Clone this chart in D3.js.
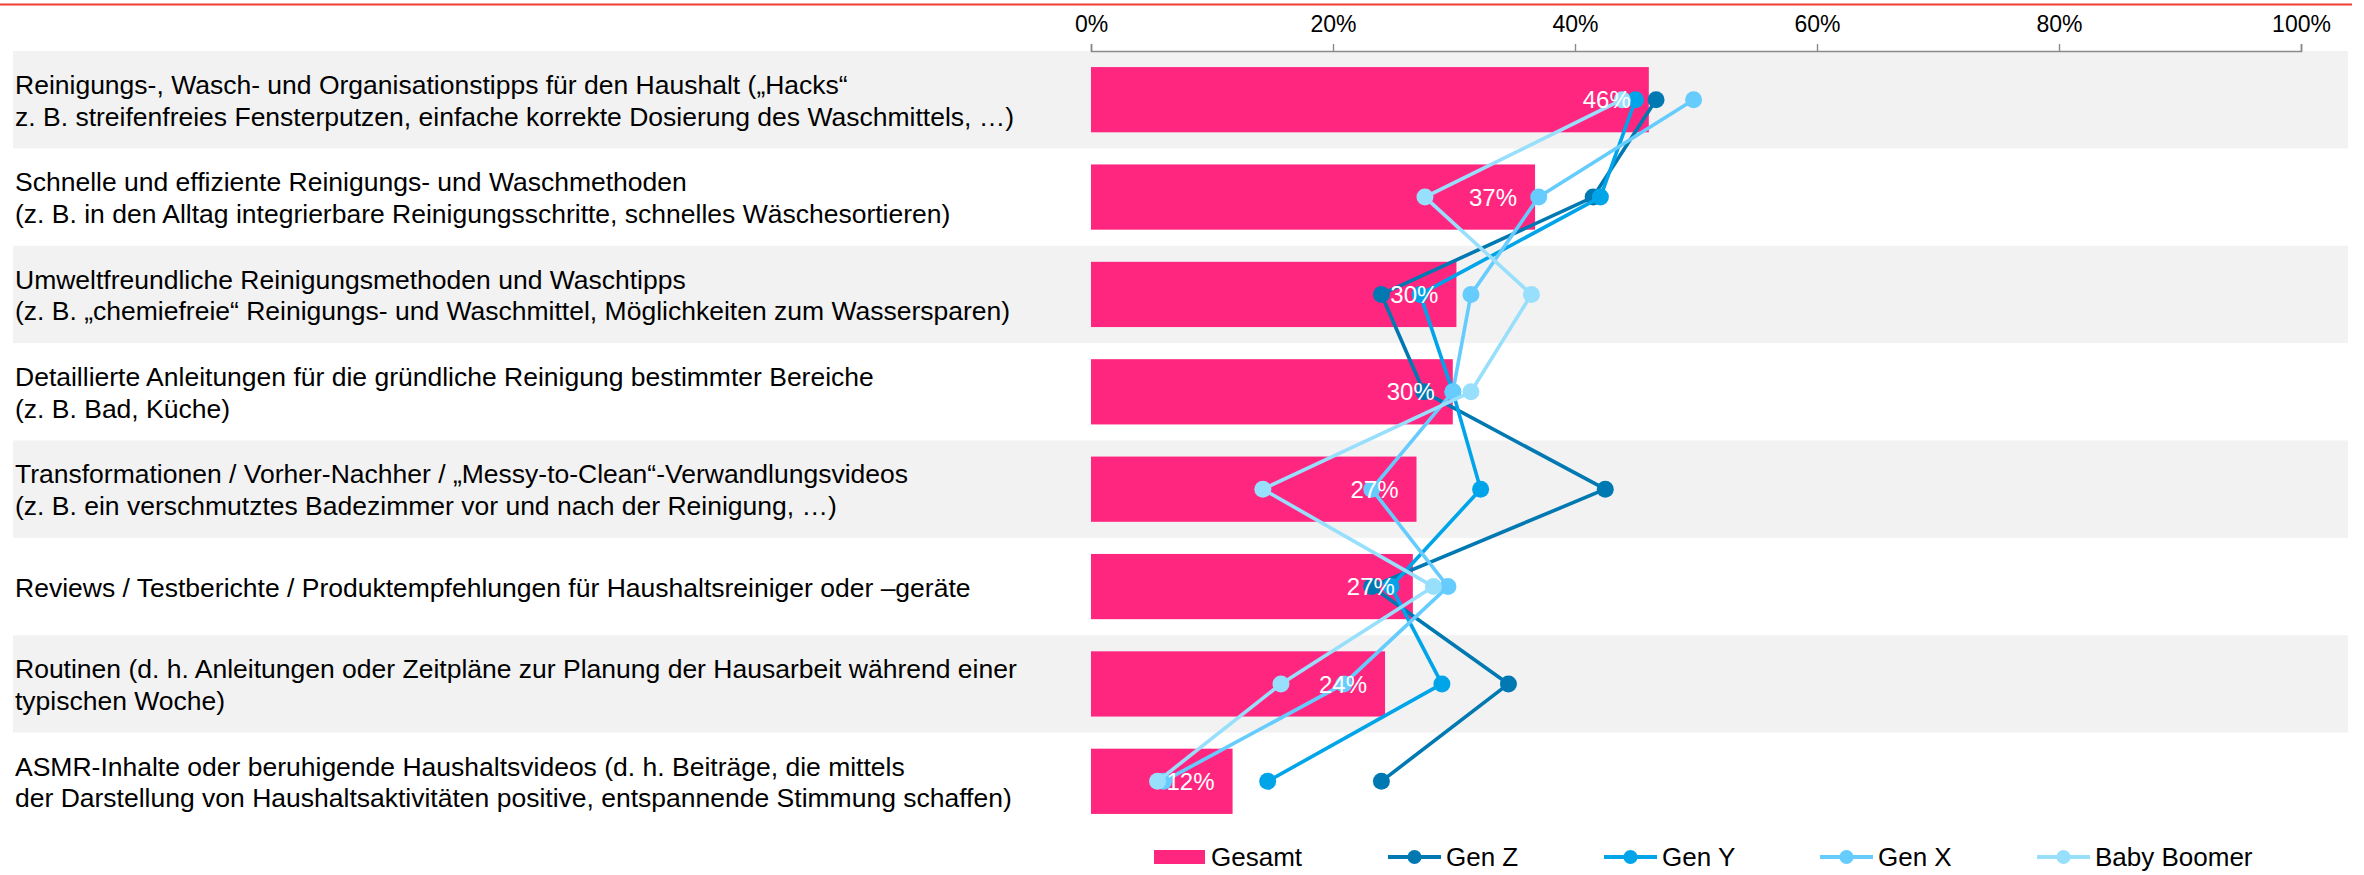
<!DOCTYPE html>
<html>
<head>
<meta charset="utf-8">
<script src="https://cdn.jsdelivr.net/npm/d3@7"></script>
<style>
html,body{margin:0;padding:0;background:#fff;}
svg{display:block;font-family:"Liberation Sans",Arial,sans-serif;}
</style>
</head>
<body>
<svg id="chart" width="2364" height="875"></svg>
<script>
const categories = [
  ["Reinigungs-, Wasch- und Organisationstipps für den Haushalt („Hacks“", "z. B. streifenfreies Fensterputzen, einfache korrekte Dosierung des Waschmittels, …)"],
  ["Schnelle und effiziente Reinigungs- und Waschmethoden", "(z. B. in den Alltag integrierbare Reinigungsschritte, schnelles Wäschesortieren)"],
  ["Umweltfreundliche Reinigungsmethoden und Waschtipps", "(z. B. „chemiefreie“ Reinigungs- und Waschmittel, Möglichkeiten zum Wassersparen)"],
  ["Detaillierte Anleitungen für die gründliche Reinigung bestimmter Bereiche", "(z. B. Bad, Küche)"],
  ["Transformationen / Vorher-Nachher / „Messy-to-Clean“-Verwandlungsvideos", "(z. B. ein verschmutztes Badezimmer vor und nach der Reinigung, …)"],
  ["Reviews / Testberichte / Produktempfehlungen für Haushaltsreiniger oder –geräte"],
  ["Routinen (d. h. Anleitungen oder Zeitpläne zur Planung der Hausarbeit während einer", "typischen Woche)"],
  ["ASMR-Inhalte oder beruhigende Haushaltsvideos (d. h. Beiträge, die mittels", "der Darstellung von Haushaltsaktivitäten positive, entspannende Stimmung schaffen)"]
];
const gesamt = [46.1, 36.7, 30.2, 29.9, 26.9, 26.6, 24.3, 11.7];
const genZ   = [46.7, 41.5, 24.0, 27.5, 42.5, 23.2, 34.5, 24.0];
const genY   = [45.0, 42.1, 27.2, 29.9, 32.2, 24.8, 29.0, 14.6];
const genX   = [49.8, 37.0, 31.4, 29.9, 23.2, 29.5, 20.9, 6.0];
const boomer = [43.9, 27.6, 36.4, 31.4, 14.2, 28.3, 15.7, 5.5];
const tickValues = [0, 20, 40, 60, 80, 100];
const seriesNames = ["Gesamt", "Gen Z", "Gen Y", "Gen X", "Baby Boomer"];

const colors = {"Gesamt":"#ff2680","Gen Z":"#0079b2","Gen Y":"#00a5e9","Gen X":"#66ccfd","Baby Boomer":"#98dffc"};
const lineSeries = [
  {name:"Gen Z", values: genZ},
  {name:"Gen Y", values: genY},
  {name:"Gen X", values: genX},
  {name:"Baby Boomer", values: boomer}
];

const svg = d3.select("#chart");
const x = d3.scaleLinear().domain([0, 100]).range([1091, 2301]);
const idx = d3.range(categories.length);
const y = d3.scaleBand().domain(idx).range([51, 830]).padding(0);
const yc = i => y(i) + y.bandwidth() / 2;
const barH = y.bandwidth() * 0.67;

// top red rule
svg.append("line").attr("x1", 0).attr("x2", 2352).attr("y1", 4.5).attr("y2", 4.5)
  .attr("stroke", "#ef3e36").attr("stroke-width", 2);

// alternating row bands
svg.append("g").selectAll("rect").data(idx.filter(i => i % 2 === 0)).join("rect")
  .attr("x", 13).attr("width", 2348 - 13)
  .attr("y", i => y(i)).attr("height", y.bandwidth())
  .attr("fill", "#f2f2f2");

// axis
const axis = svg.append("g").attr("transform", "translate(0,51)")
  .call(d3.axisTop(x).tickValues(tickValues).tickFormat(d => d + "%").tickSize(7).tickSizeOuter(7));
axis.select(".domain").attr("stroke", "#8a8a8a").attr("stroke-width", 1.6);
axis.selectAll(".tick line").attr("stroke", "#8a8a8a").attr("stroke-width", 1.4);
axis.selectAll(".tick text").attr("font-size", 23).attr("fill", "#000")
  .attr("font-family", "'Liberation Sans', Arial, sans-serif").attr("y", -19).attr("dy", 0);

// category labels
const lab = svg.append("g").selectAll("text").data(idx).join("text")
  .attr("x", 15).attr("font-size", 26.5).attr("fill", "#000");
lab.each(function(i) {
  const lines = categories[i];
  const n = lines.length;
  const lh = 31.6;
  d3.select(this).selectAll("tspan").data(lines).join("tspan")
    .attr("x", 15)
    .attr("y", (d, k) => yc(i) + (k - (n - 1) / 2) * lh)
    .attr("dy", "0.38em")
    .text(d => d);
});

// bars
svg.append("g").selectAll("rect").data(idx).join("rect")
  .attr("x", x(0)).attr("y", i => yc(i) - barH / 2)
  .attr("width", i => x(gesamt[i]) - x(0)).attr("height", barH)
  .attr("fill", colors["Gesamt"]);

// lines + dots
const line = d3.line().x(d => x(d.v)).y(d => yc(d.i));
lineSeries.forEach(s => {
  const pts = s.values.map((v, i) => ({v, i}));
  const g = svg.append("g");
  g.append("path").datum(pts).attr("d", line).attr("fill", "none")
    .attr("stroke", colors[s.name]).attr("stroke-width", 3.6).attr("stroke-linejoin", "round");
  g.selectAll("circle").data(pts).join("circle")
    .attr("cx", d => x(d.v)).attr("cy", d => yc(d.i)).attr("r", 8.5)
    .attr("fill", colors[s.name]);
});

// value labels
svg.append("g").selectAll("text").data(idx).join("text")
  .attr("x", i => x(gesamt[i]) - 18).attr("y", i => yc(i)).attr("dy", "0.36em")
  .attr("text-anchor", "end").attr("font-size", 24).attr("fill", "#fff")
  .text(i => Math.round(gesamt[i]) + "%");

// legend
const legY = 857;
const leg = svg.append("g");
const legX = [1154, 1388, 1604, 1820, 2037];
seriesNames.forEach((name, k) => {
  const lx = legX[k];
  if (k === 0) {
    leg.append("rect").attr("x", lx).attr("y", legY - 7).attr("width", 51).attr("height", 14).attr("fill", colors[name]);
  } else {
    leg.append("line").attr("x1", lx).attr("x2", lx + 53).attr("y1", legY).attr("y2", legY)
      .attr("stroke", colors[name]).attr("stroke-width", 4);
    leg.append("circle").attr("cx", lx + 26.5).attr("cy", legY).attr("r", 7).attr("fill", colors[name]);
  }
  leg.append("text").attr("x", lx + (k === 0 ? 57 : 58)).attr("y", legY).attr("dy", "0.36em")
    .attr("font-size", 26).attr("fill", "#000").text(name);
});
</script>
</body>
</html>
